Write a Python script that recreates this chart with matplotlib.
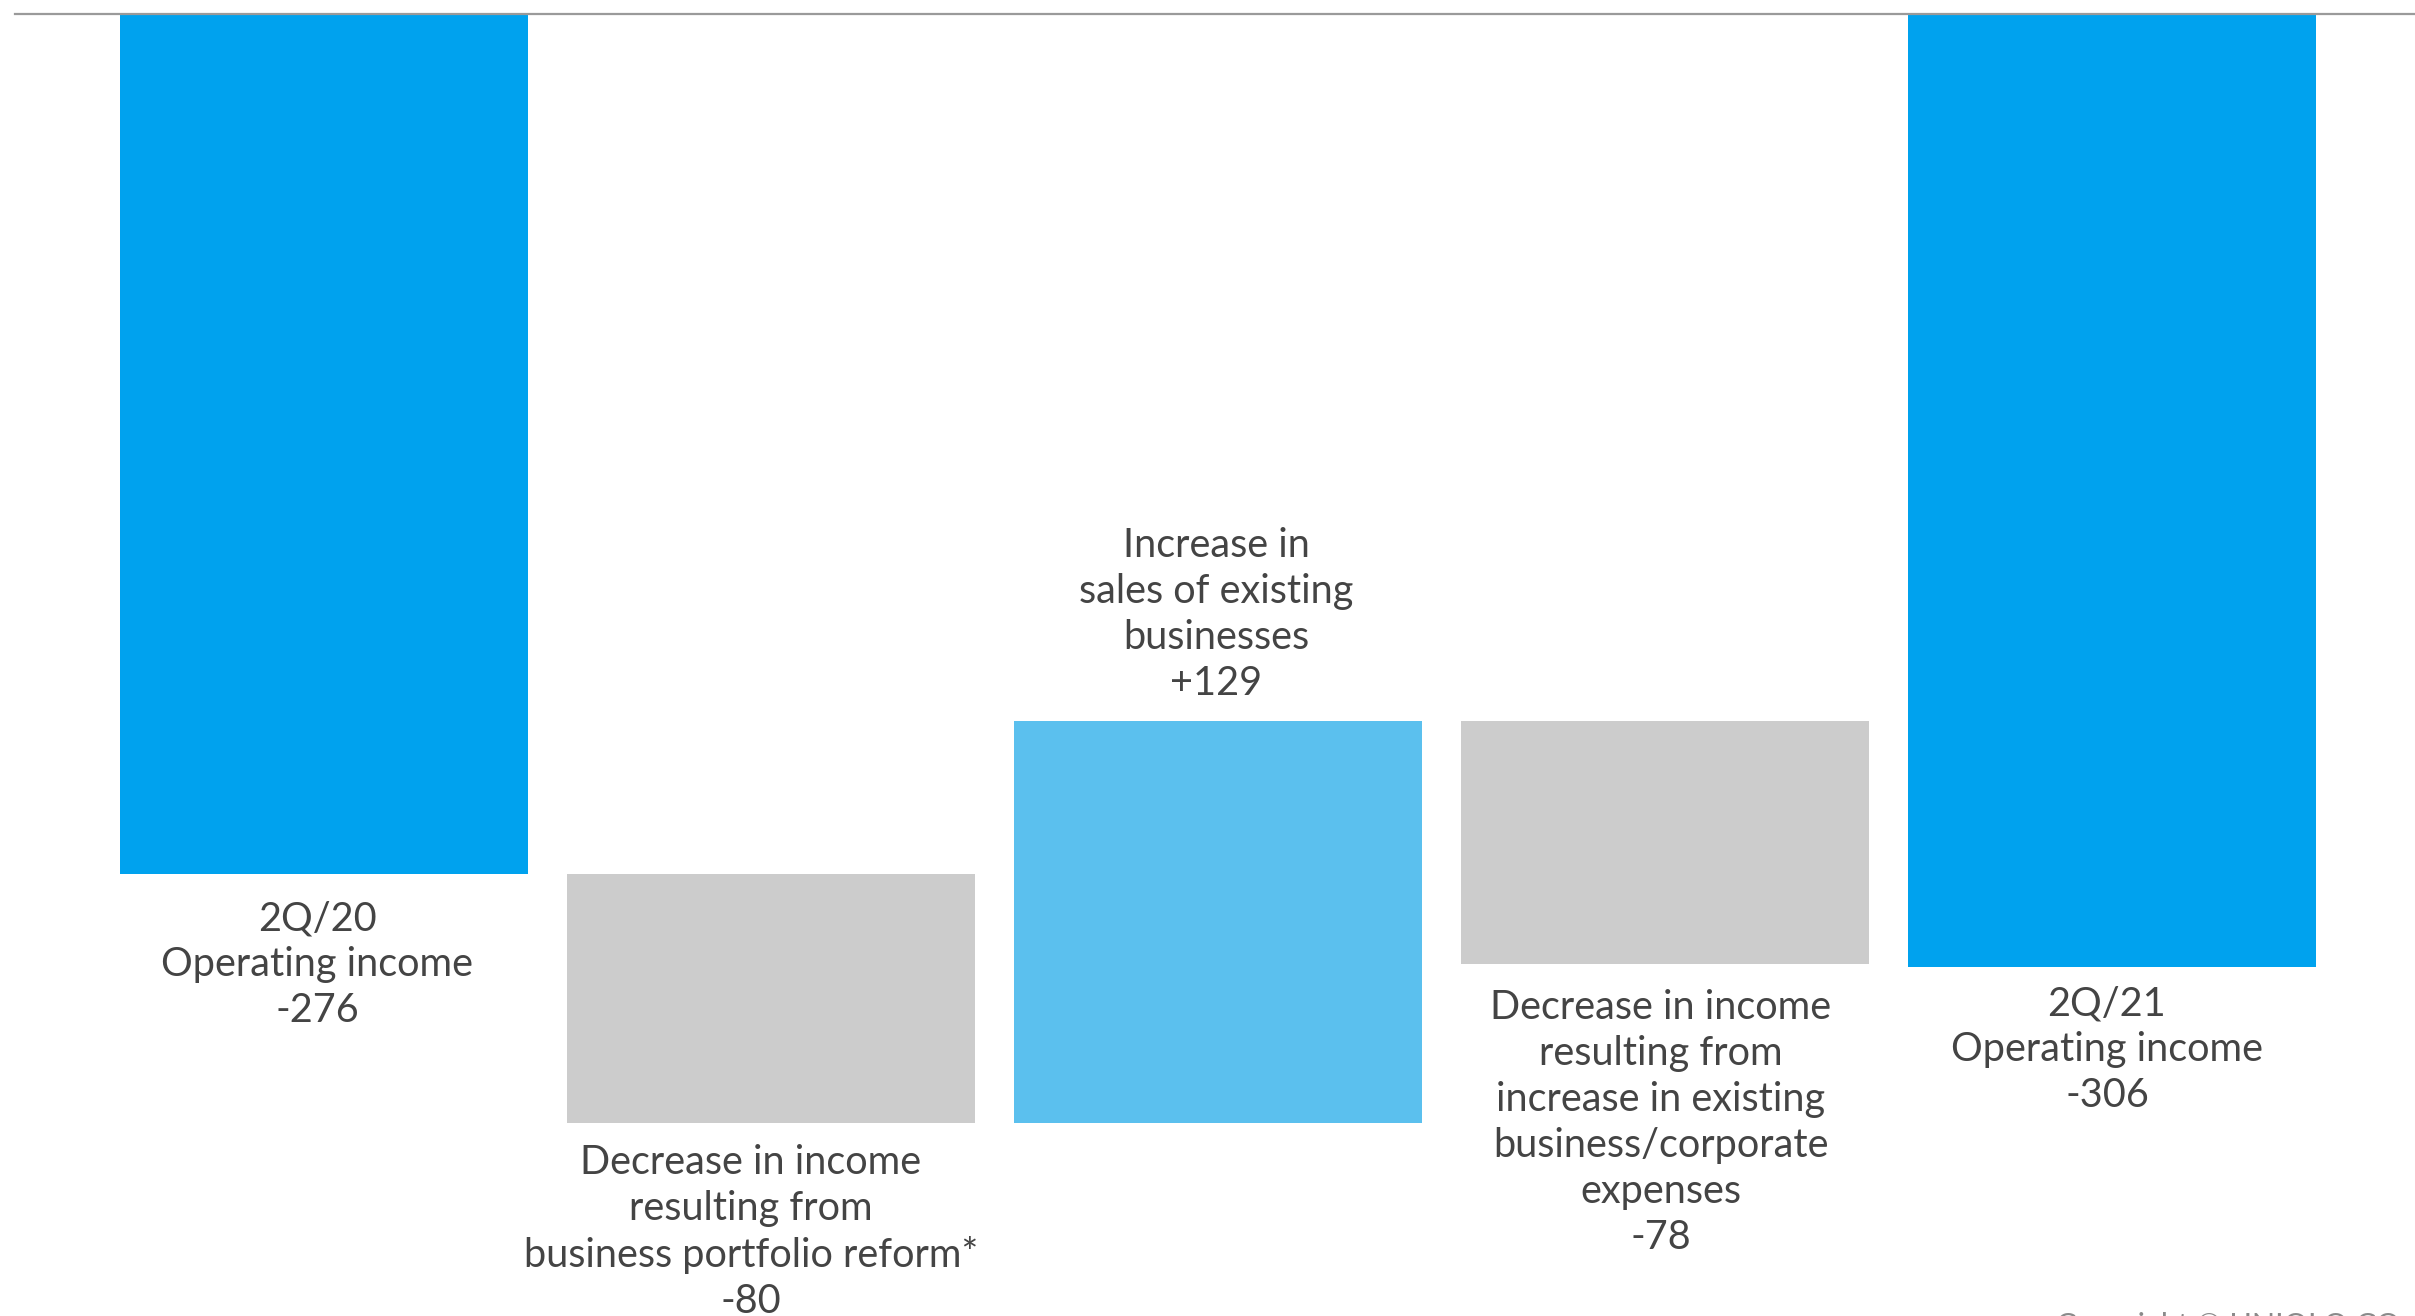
import matplotlib.pyplot as plt

# operating income bridge, 2Q/20 -> 2Q/21
labels = ["2Q/20\nOperating income",
          "Decrease in income\nresulting from\nbusiness portfolio reform*",
          "Increase in\nsales of existing\nbusinesses",
          "Decrease in income\nresulting from\nincrease in existing\nbusiness/corporate\nexpenses",
          "2Q/21\nOperating income"]
values = [-276, -80, 129, -78, -306]
kinds = ["total", "delta", "delta", "delta", "total"]
colors = ["#00a2ee", "#cccccc", "#5bc0ee", "#cccccc", "#00a2ee"]
label_dx = [-7, -20, -2, -4, -5]   # pixel nudges for the text blocks
label_dy = [-19, -15, 14, -18, -13]  # points from bar end to text block

plt.rcParams['font.family'] = ['Lato', 'DejaVu Sans']

fig = plt.figure(figsize=(24.15, 13.16), dpi=100)
ax = fig.add_axes([0, 0, 1, 1])

bottoms = []
run = 0
for v, k in zip(values, kinds):
    if k == "total":
        bottoms.append(0)
        run = v
    else:
        bottoms.append(run)
        run += v

x = list(range(len(values)))
ax.bar(x, values, bottom=bottoms, width=0.913, color=colors, zorder=2)

ax.set_xlim(-0.725, 4.678)
ax.set_ylim(-418, 4.5)
ax.axhline(0, xmin=(-0.691 + 0.725) / 5.403, xmax=1, color="#9a9a9a", lw=1.6, zorder=3)

for i, (v, b, k, lab) in enumerate(zip(values, bottoms, kinds, labels)):
    txt = lab + "\n" + (f"{v}" if k == "total" else f"{v:+d}")
    top = max(b, b + v)
    low = min(b, b + v)
    anchor = (i, top) if v > 0 else (i, low)
    ax.annotate(txt, anchor, xytext=(label_dx[i] * 0.72, label_dy[i]), textcoords="offset points",
                ha="center", va="bottom" if v > 0 else "top",
                fontsize=28.5, color="#444444", linespacing=1.3)

fig.text(2056 / 2415, 1 - 1312 / 1316, "Copyright © UNIQLO CO., LTD. All Rights Reserved.",
         ha="left", va="top", fontsize=22, color="#8a8a8a")

ax.axis("off")
fig.savefig("out.png", dpi=100)
